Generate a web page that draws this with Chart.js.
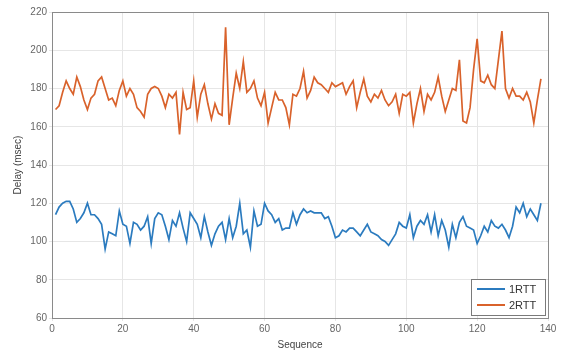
<!DOCTYPE html>
<html lang="en">

<head>
    <script src="https://cdn.jsdelivr.net/npm/chart.js@4.4.1/dist/chart.umd.min.js"></script>
    <style>
        html, body { margin: 0; padding: 0; background: #fff; }
        #wrap { width: 565px; height: 351px; }
    </style>
</head>

<body>
    <div id="wrap"><canvas id="delayChart"></canvas></div>

    <script>
        // delay values (msec), sequence 1..138
        const rtt1 = [
            114, 118, 120, 121, 121, 117, 110, 112, 115, 120,
            114, 114, 112, 109, 96, 105, 104, 103, 116, 109,
            108, 99, 110, 109, 106, 108, 113, 99, 112, 115,
            114, 108, 101, 111, 108, 115, 107, 100, 115, 112,
            109, 102, 113, 105, 98, 104, 108, 110, 101, 112,
            102, 108, 120, 104, 106, 97, 116, 108, 109, 120,
            116, 114, 110, 112, 106, 107, 107, 115, 109, 114,
            117, 115, 116, 115, 115, 115, 112, 113, 108, 102,
            103, 106, 105, 107, 107, 105, 103, 106, 109, 105,
            104, 103, 101, 100, 98, 101, 104, 110, 108, 107,
            114, 102, 108, 111, 109, 114, 105, 114, 103, 111,
            106, 97, 109, 102, 110, 113, 108, 107, 106, 99,
            103, 108, 105, 111, 108, 107, 109, 106, 102, 108,
            118, 115, 120, 113, 117, 114, 111, 120
        ];
        const rtt2 = [
            169, 171, 178, 184, 180, 177, 186, 181, 174, 169,
            175, 177, 184, 186, 180, 174, 175, 171, 179, 184,
            176, 180, 177, 170, 168, 165, 177, 180, 181, 180,
            176, 170, 177, 175, 178, 156, 178, 169, 170, 184,
            165, 177, 182, 172, 164, 172, 167, 166, 212, 161,
            175, 188, 180, 194, 178, 180, 184, 175, 171, 178,
            162, 170, 178, 174, 174, 170, 161, 177, 176, 180,
            189, 175, 179, 186, 183, 182, 180, 178, 183, 181,
            182, 183, 177, 181, 184, 170, 178, 185, 176, 173,
            177, 175, 179, 174, 171, 173, 177, 167, 177, 176,
            178, 162, 172, 180, 168, 177, 174, 178, 186, 176,
            168, 174, 180, 179, 195, 163, 162, 170, 190, 206,
            184, 183, 187, 182, 180, 195, 210, 180, 175, 180,
            176, 176, 174, 178, 173, 162, 174, 185
        ];
        const seriesNames = ["1RTT", "2RTT"];
        const xTicks = [0, 20, 40, 60, 80, 100, 120, 140];
        const yTicks = [60, 80, 100, 120, 140, 160, 180, 200, 220];

        const toPoints = arr => arr.map((v, i) => ({ x: i + 1, y: v }));

        const font = { family: "'Liberation Sans', Arial, sans-serif", size: 10 };
        const textColor = '#666';

        // box around the plot area plus a MATLAB style legend
        const boxAndLegend = {
            id: 'boxAndLegend',
            afterDraw(chart) {
                const { ctx, chartArea: a } = chart;
                ctx.save();
                ctx.strokeStyle = '#8a8a8a';
                ctx.lineWidth = 1;
                ctx.strokeRect(a.left + 0.5, a.top + 0.5, a.right - a.left, a.bottom - a.top);

                const w = 74, h = 36;
                const lx = a.right - w - 3, ly = a.bottom - h - 3;
                ctx.fillStyle = '#fff';
                ctx.fillRect(lx, ly, w, h);
                ctx.strokeStyle = '#7a7a7a';
                ctx.strokeRect(lx + 0.5, ly + 0.5, w, h);
                ctx.font = "11px 'Liberation Sans', Arial, sans-serif";
                ctx.textBaseline = 'middle';
                chart.data.datasets.forEach((ds, i) => {
                    const yy = ly + 10 + i * 16;
                    ctx.strokeStyle = ds.borderColor;
                    ctx.lineWidth = 2;
                    ctx.beginPath();
                    ctx.moveTo(lx + 6, yy);
                    ctx.lineTo(lx + 34, yy);
                    ctx.stroke();
                    ctx.fillStyle = '#333';
                    ctx.fillText(ds.label, lx + 38, yy + 1);
                });
                ctx.restore();
            }
        };

        new Chart(document.getElementById('delayChart'), {
            type: 'line',
            data: {
                datasets: [
                    {
                        label: seriesNames[0],
                        data: toPoints(rtt1),
                        borderColor: '#2b7bbf',
                        borderWidth: 1.7,
                        pointRadius: 0,
                        tension: 0
                    },
                    {
                        label: seriesNames[1],
                        data: toPoints(rtt2),
                        borderColor: '#d9622b',
                        borderWidth: 1.7,
                        pointRadius: 0,
                        tension: 0
                    }
                ]
            },
            options: {
                responsive: true,
                maintainAspectRatio: false,
                animation: false,
                layout: { padding: { top: 12, right: 17, left: 0, bottom: 0 } },
                plugins: {
                    legend: { display: false },
                    tooltip: { enabled: false }
                },
                scales: {
                    x: {
                        type: 'linear',
                        min: 0,
                        max: 140,
                        afterBuildTicks: s => { s.ticks = xTicks.map(v => ({ value: v })); },
                        afterFit: s => { s.height = 33; },
                        grid: { color: '#e6e6e6', tickLength: 3, drawTicks: true },
                        border: { display: false },
                        ticks: { font, color: textColor, padding: 2, maxRotation: 0 },
                        title: {
                            display: true,
                            text: 'Sequence',
                            font: { ...font, size: 10 },
                            color: '#444',
                            padding: { top: 0, bottom: 0 }
                        }
                    },
                    y: {
                        min: 60,
                        max: 220,
                        afterBuildTicks: s => { s.ticks = yTicks.map(v => ({ value: v })); },
                        afterFit: s => { s.width = 52; },
                        grid: { color: '#e6e6e6', tickLength: 3 },
                        border: { display: false },
                        ticks: { font, color: textColor, padding: 2 },
                        title: {
                            display: true,
                            text: 'Delay (msec)',
                            font: { ...font, size: 10 },
                            color: '#444',
                            padding: { top: 12, bottom: 0 }
                        }
                    }
                }
            },
            plugins: [boxAndLegend]
        });
    </script>
</body>

</html>
